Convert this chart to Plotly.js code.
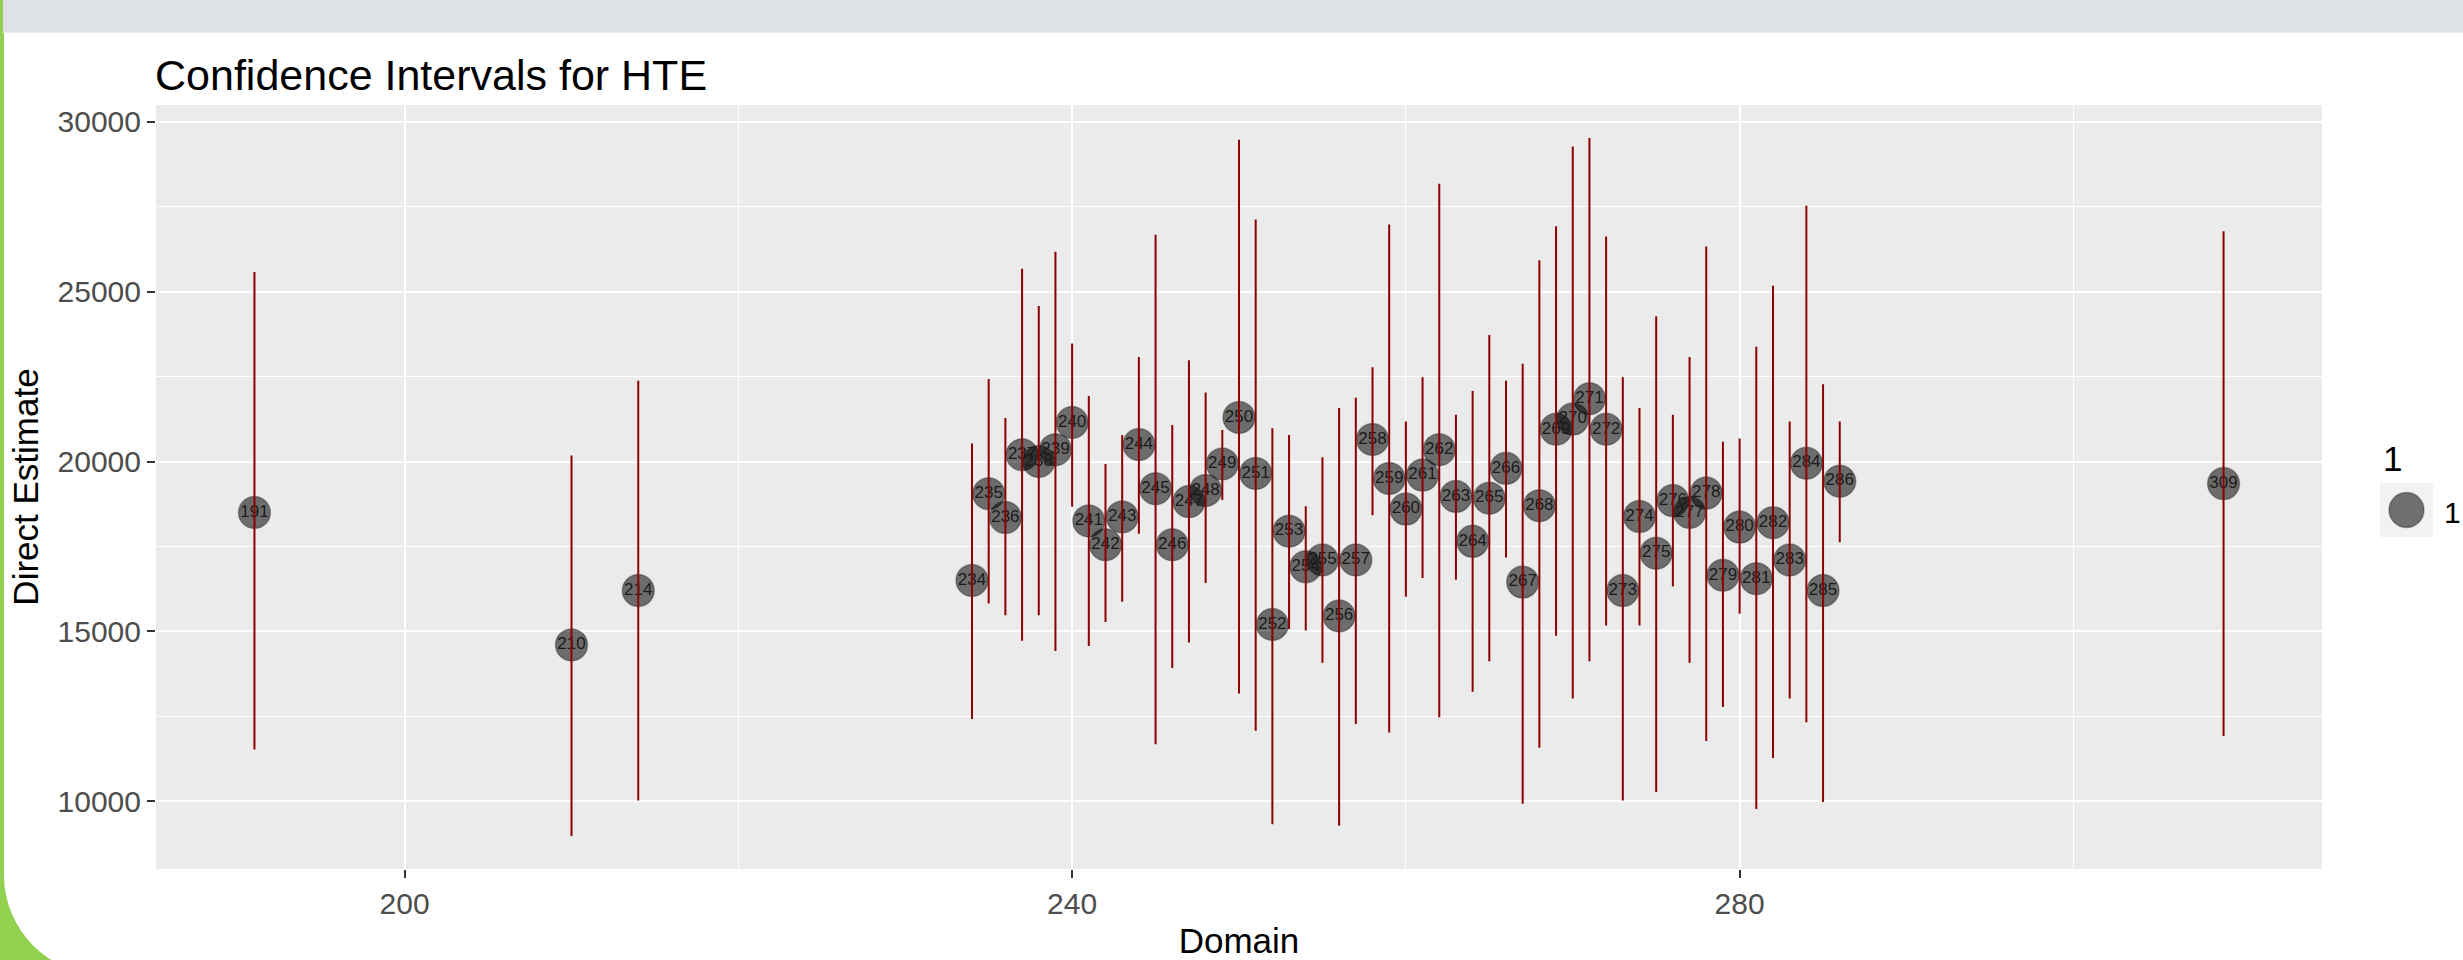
<!DOCTYPE html>
<html>
<head>
<meta charset="utf-8">
<script src="https://cdn.plot.ly/plotly-3.0.1.min.js"></script>
<style>
html, body { margin:0; padding:0; width:2463px; height:960px; overflow:hidden; background:#ffffff; }
#green { position:absolute; left:0; top:0; width:220px; height:960px; background:#92D050; }
#sheet { position:absolute; left:4px; top:32px; width:2459px; height:943px; background:#ffffff; border-bottom-left-radius:100px; }
#band { position:absolute; left:3px; top:0; width:2460px; height:32px; background:#DFE2E5; border-bottom:1px solid #ECEEF0; }
#chart { position:absolute; left:0; top:0; width:2463px; height:960px; }
</style>
</head>
<body>
<div id="green"></div><div id="sheet"></div><div id="band"></div>
<div id="chart"></div>
<script>
// ---- data ----
const domains = [191, 210, 214, 234, 235, 236, 237, 238, 239, 240, 241, 242, 243, 244, 245, 246, 247, 248, 249, 250,
  251, 252, 253, 254, 255, 256, 257, 258, 259, 260, 261, 262, 263, 264, 265, 266, 267, 268, 269, 270,
  271, 272, 273, 274, 275, 276, 277, 278, 279, 280, 281, 282, 283, 284, 285, 286, 309];
const directEstimate = [18500, 14600, 16200, 16500, 19050, 18350, 20200, 20000, 20350, 21150, 18250, 17550, 18370, 20500, 19200, 17550, 18820, 19150, 19930, 21300,
  19650, 15200, 17950, 16900, 17100, 15450, 17100, 20650, 19500, 18600, 19600, 20350, 18970, 17650, 18920, 19800, 16450, 18700, 20950, 21250,
  21850, 20950, 16200, 18380, 17300, 18850, 18500, 19070, 16650, 18070, 16550, 18200, 17100, 19950, 16200, 19420, 19350];
const lowerCI = [11550, 9000, 10050, 12450, 15850, 15500, 14750, 15500, 14450, 18700, 14600, 15300, 15900, 17900, 11700, 13950, 14700, 16450, 18900, 13200,
  12100, 9350, 15100, 15050, 14100, 9300, 12300, 18450, 12050, 16050, 16600, 12500, 16550, 13250, 14150, 17200, 9950, 11600, 14900, 13050,
  14150, 15200, 10050, 15200, 10300, 16350, 14100, 11800, 12800, 15550, 9800, 11300, 13050, 12350, 10000, 17650, 11950];
const upperCI = [25550, 20150, 22350, 20500, 22400, 21250, 25650, 24550, 26150, 23450, 21900, 19900, 20750, 23050, 26650, 21050, 22950, 22000, 20900, 29450,
  27100, 20950, 20750, 18650, 20100, 21550, 21850, 22750, 26950, 21150, 22450, 28150, 21350, 22050, 23700, 22350, 22850, 25900, 26900, 29250,
  29500, 26600, 22450, 21550, 24250, 21350, 23050, 26300, 20550, 20650, 23350, 25150, 21150, 27500, 22250, 21150, 26750];
const xTicks = [200, 240, 280];
const yTicks = [10000, 15000, 20000, 25000, 30000];
const legendTitle = "1";
const legendLabel = "1";

const pointLabels = domains.map(String);
const errPlus = upperCI.map((u, i) => u - directEstimate[i]);
const errMinus = lowerCI.map((l, i) => directEstimate[i] - l);

const FONT = "Liberation Sans, Arial, sans-serif";

const points = {
  type: "scatter", mode: "markers+text",
  x: domains, y: directEstimate, text: pointLabels,
  textposition: "middle center",
  textfont: { family: FONT, size: 17, color: "#1a1a1a" },
  marker: { size: 32, color: "rgba(0,0,0,0.54)", line: { color: "rgba(0,0,0,0.3)", width: 1.5 } },
  showlegend: false, hoverinfo: "skip", cliponaxis: false
};
const bars = {
  type: "scatter", mode: "markers",
  x: domains, y: directEstimate,
  marker: { size: 1, color: "rgba(0,0,0,0)" },
  error_y: { type: "data", symmetric: false, array: errPlus, arrayminus: errMinus,
             color: "#8B0000", thickness: 2, width: 1 },
  showlegend: false, hoverinfo: "skip"
};

// plot area in pixels (for legend placement)
const L = 156, R = 2322, T = 105, B = 869;
const px = x => (x - L) / (R - L);
const py = y => (B - y) / (B - T);

const layout = {
  width: 2463, height: 960,
  margin: { l: L, r: 2463 - R, t: T, b: 960 - B },
  paper_bgcolor: "rgba(0,0,0,0)",
  plot_bgcolor: "#EBEBEB",
  font: { family: FONT },
  showlegend: false,
  title: { text: "Confidence Intervals for HTE", font: { family: FONT, size: 43, color: "#000" },
           xref: "container", x: 155 / 2463, xanchor: "left",
           yref: "container", y: 1 - 75 / 960, yanchor: "middle" },
  xaxis: {
    range: [185.1, 314.9], tickmode: "array", tickvals: xTicks, ticktext: xTicks.map(String),
    showgrid: true, gridcolor: "#ffffff", gridwidth: 2,
    minor: { tickmode: "linear", tick0: 200, dtick: 20, showgrid: true, gridcolor: "#ffffff", gridwidth: 1.1 },
    ticks: "outside", ticklen: 8, tickwidth: 2, tickcolor: "#333333",
    tickfont: { family: FONT, size: 30, color: "#4D4D4D" },
    zeroline: false, showline: false,
    title: { text: "Domain", font: { family: FONT, size: 35, color: "#000" }, standoff: 12 }
  },
  yaxis: {
    range: [8000, 30500], tickmode: "array", tickvals: yTicks, ticktext: yTicks.map(String),
    showgrid: true, gridcolor: "#ffffff", gridwidth: 2,
    minor: { tickmode: "linear", tick0: 7500, dtick: 5000, showgrid: true, gridcolor: "#ffffff", gridwidth: 1.1 },
    ticks: "outside", ticklen: 8, tickwidth: 2, tickcolor: "#333333",
    tickfont: { family: FONT, size: 30, color: "#4D4D4D" },
    zeroline: false, showline: false,
    title: { text: "Direct Estimate", font: { family: FONT, size: 35, color: "#000" }, standoff: 8 }
  },
  shapes: [
    { type: "rect", xref: "paper", yref: "paper", x0: px(2380), x1: px(2433), y0: py(537), y1: py(483),
      fillcolor: "#F2F2F2", line: { width: 0 }, layer: "above" },
    { type: "circle", xref: "paper", yref: "paper", xsizemode: "pixel", ysizemode: "pixel",
      xanchor: px(2406.5), yanchor: py(510), x0: -17.5, x1: 17.5, y0: -17.5, y1: 17.5,
      fillcolor: "rgba(0,0,0,0.54)", line: { color: "rgba(0,0,0,0.3)", width: 1.5 }, layer: "above" }
  ],
  annotations: [
    { text: legendTitle, xref: "paper", yref: "paper", x: px(2381), y: py(458), xanchor: "left", yanchor: "middle",
      showarrow: false, font: { family: FONT, size: 35, color: "#000" } },
    { text: legendLabel, xref: "paper", yref: "paper", x: px(2442), y: py(512), xanchor: "left", yanchor: "middle",
      showarrow: false, font: { family: FONT, size: 30, color: "#000" } }
  ]
};

Plotly.newPlot("chart", [points, bars], layout, { staticPlot: true, displayModeBar: false });
</script>
</body>
</html>
